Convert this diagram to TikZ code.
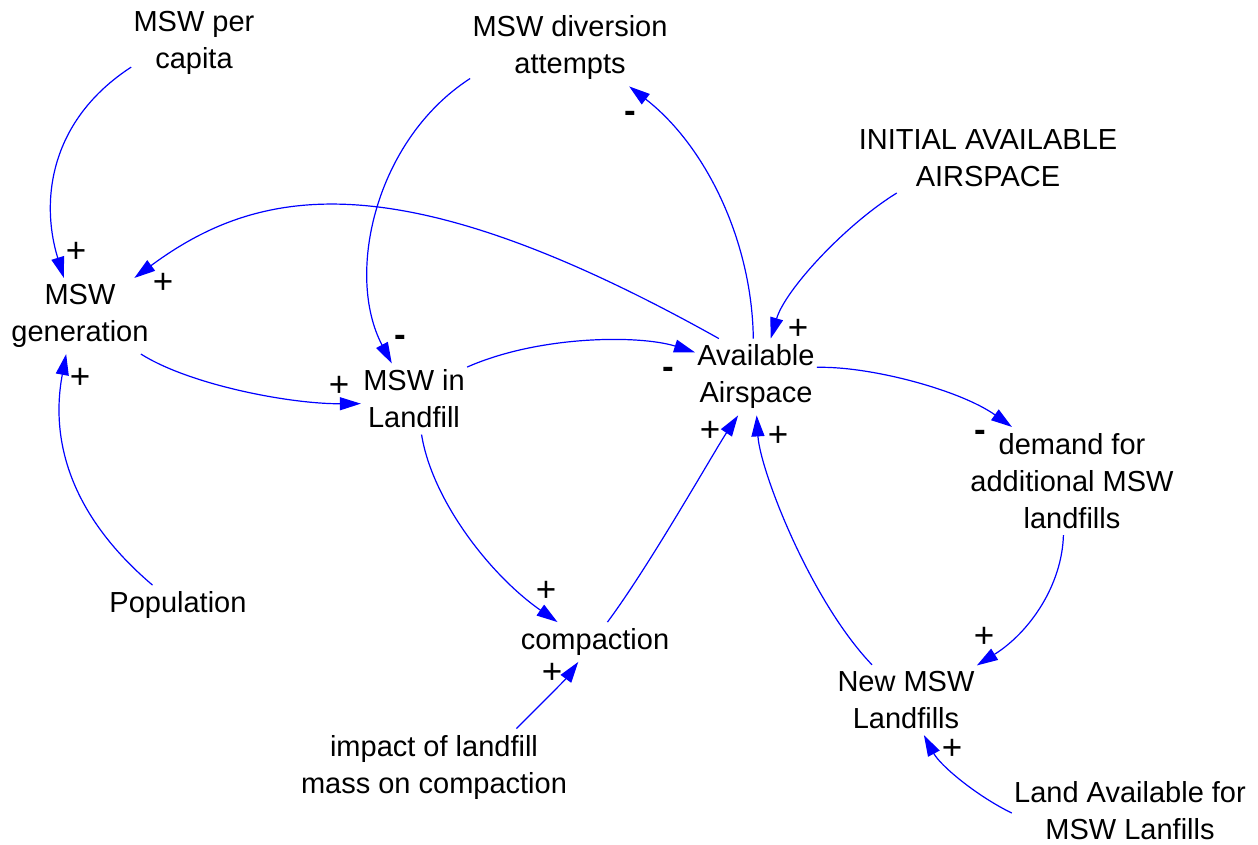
\documentclass[tikz,border=0pt]{standalone}
\usepackage{fontspec}
\setmainfont{Liberation Sans}
\usepackage{tikz}
\usetikzlibrary{arrows.meta}

\begin{document}
\begin{tikzpicture}[x=0.5pt, y=-0.5pt,
  var/.style={align=center, inner xsep=1pt, inner ysep=3pt, font=\fontsize{14.5}{18.5}\selectfont},
  pol/.style={inner sep=0pt, font=\fontsize{17.5}{17.5}\selectfont},
  link/.style={draw=blue, line width=0.6pt, -{Triangle[length=10.5pt,width=6.5pt]}}]
\useasboundingbox (0,0) rectangle (1258,845);
\node[var] (percap) at (194,43) {MSW per\\capita};
\node[var] (diversion) at (570,48) {MSW diversion\\attempts};
\node[var] (initial) at (988,158) {INITIAL AVAILABLE\\AIRSPACE};
\node[var] (gen) at (80,316) {MSW\\generation};
\node[var] (landfill) at (414,399) {MSW in\\Landfill};
\node[var] (avail) at (756,377) {Available\\Airspace};
\node[var] (demand) at (1072,481) {demand for\\additional MSW\\landfills};
\node[var] (pop) at (178,605) {Population};
\node[var] (compaction) at (595,642) {compaction};
\node[var] (impact) at (434,767) {impact of landfill\\mass on compaction};
\node[var] (newlf) at (906,700) {New MSW\\Landfills};
\node[var] (land) at (1130,811) {Land Available for\\MSW Lanfills};
\draw[link] (percap.201) .. controls (50,120) and (40,200) .. (gen.113);
\draw[link] (avail.134) .. controls (400,160) and (260,185) .. (gen.35);
\draw[link] (pop.142) .. controls (70,515) and (50,440) .. (gen.250);
\draw[link] (gen.328) .. controls (190,385) and (290,404) .. (landfill.185);
\draw[link] (diversion.197) .. controls (375,140) and (345,275) .. (landfill.122);
\draw[link] (landfill.31) .. controls (540,335) and (640,335) .. (avail.158);
\draw[link] (avail.94) .. controls (752,240) and (705,145) .. (diversion.327);
\draw[link] (initial.201) .. controls (845,225) and (785,290) .. (avail.69);
\draw[link] (avail.9) .. controls (870,366) and (960,390) .. (demand.138);
\draw[link] (demand.261) .. controls (1062,585) and (1030,632) .. (newlf.26);
\draw[link] (newlf.134) .. controls (810,600) and (760,470) .. (avail.271);
\draw[link] (compaction.58) .. controls (650,565) and (715,450) .. (avail.245);
\draw[link] (landfill.282) .. controls (432,500) and (490,575) .. (compaction.152);
\draw[link] (impact.25) .. controls (540,705) and (565,680) .. (compaction.230);
\draw[link] (land.181) .. controls (975,795) and (940,765) .. (newlf.297);
\node[pol] (s1) at (76,252) {+};
\node[pol] (s2) at (163,283) {+};
\node[pol] (s3) at (80,378) {+};
\node[pol] (s4) at (630,117) {\textbf{-}};
\node[pol] (s5) at (400,341) {\textbf{-}};
\node[pol] (s6) at (339,386) {+};
\node[pol] (s7) at (668,373) {\textbf{-}};
\node[pol] (s8) at (798,329) {+};
\node[pol] (s9) at (710,431) {+};
\node[pol] (s10) at (778,436) {+};
\node[pol] (s11) at (980,436) {\textbf{-}};
\node[pol] (s12) at (546,591) {+};
\node[pol] (s13) at (552,673) {+};
\node[pol] (s14) at (984,637) {+};
\node[pol] (s15) at (952,749) {+};
\end{tikzpicture}
\end{document}
